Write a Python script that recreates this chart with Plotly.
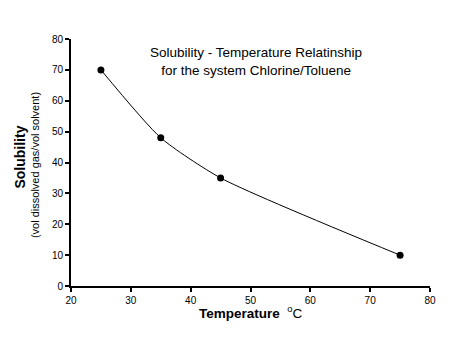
import plotly.graph_objects as go

temperature = [25, 35, 45, 75]
solubility = [70, 48, 35, 10]
x_ticks = [20, 30, 40, 50, 60, 70, 80]
y_ticks = [0, 10, 20, 30, 40, 50, 60, 70, 80]

fig = go.Figure()
fig.add_trace(go.Scatter(
    x=temperature, y=solubility, mode="lines+markers",
    line=dict(color="black", width=1, shape="spline", smoothing=0.6),
    marker=dict(color="black", size=7),
    showlegend=False, cliponaxis=False,
))

axis_common = dict(
    showgrid=False, zeroline=False, showline=True, linecolor="black", linewidth=2,
    ticks="outside", ticklen=4, tickwidth=1.5, tickcolor="black",
    tickfont=dict(family="Liberation Sans, Arial", size=10, color="black"),
)
fig.update_xaxes(range=[20, 80], tickvals=x_ticks, **axis_common)
fig.update_yaxes(range=[0, 80], tickvals=y_ticks, **axis_common)

fig.update_layout(
    width=462, height=344,
    margin=dict(l=71, r=32, t=39, b=58),
    plot_bgcolor="white", paper_bgcolor="white",
    font=dict(family="Liberation Sans, Arial", color="black"),
    annotations=[
        dict(text="Solubility - Temperature Relatinship<br>for the system Chlorine/Toluene",
             xref="paper", yref="paper", x=0.515, y=0.91, xanchor="center", yanchor="middle",
             showarrow=False, font=dict(size=13.5)),
        dict(text="<b>Solubility</b>", xref="paper", yref="paper", x=-0.142, y=0.52,
             xanchor="center", yanchor="middle", textangle=-90, showarrow=False,
             font=dict(size=14)),
        dict(text="(vol dissolved gas/vol solvent)", xref="paper", yref="paper", x=-0.100, y=0.49,
             xanchor="center", yanchor="middle", textangle=-90, showarrow=False,
             font=dict(size=11)),
        dict(text="<b>Temperature</b>  <sup>o</sup>C", xref="paper", yref="paper", x=0.5, y=-0.104,
             xanchor="center", yanchor="middle", showarrow=False, font=dict(size=13.5)),
    ],
)

fig.write_html("out.html")
